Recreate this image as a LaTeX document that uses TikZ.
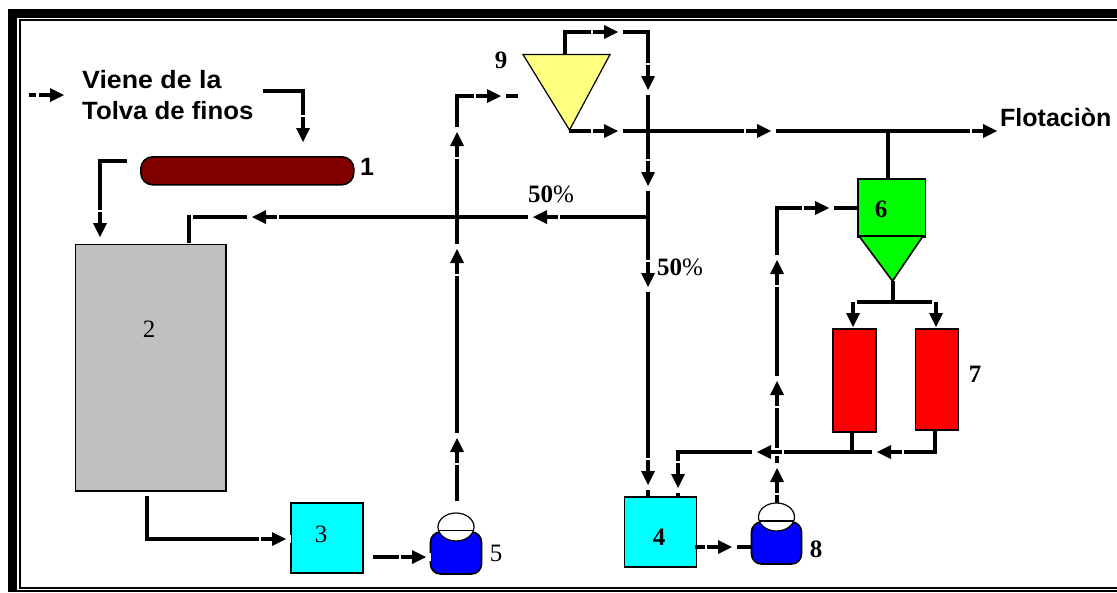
\documentclass[tikz,border=0pt]{standalone}
\usepackage{fontspec}
\setmainfont{Liberation Sans}
\newfontfamily\numfont{Liberation Serif}
\newcommand{\flowarrow}[3]{%
  \begin{scope}[shift={(#1,#2)},rotate=-#3]
    \fill[white] (-27,-4) rectangle (5,4);
    \fill[black] (-25,-1.6) rectangle (-12,1.6);
    \fill[black] (-14,-7) -- (0,0) -- (-14,7) -- cycle;
  \end{scope}}
\tikzset{
  x=1pt,y=-1pt,
  flow/.style={line width=3.2pt,draw=black,line join=miter},
  equip/.style={draw=black,line width=1.6pt},
  numlabel/.style={font=\numfont\bfseries\fontsize{25}{25}\selectfont,inner sep=0pt,text=black},
  numlight/.style={font=\numfont\fontsize{25}{25}\selectfont,inner sep=0pt,text=black},
  sanslabel/.style={font=\bfseries\fontsize{25}{29}\selectfont,inner sep=0pt,text=black,anchor=base west},
  pctlabel/.style={font=\numfont\fontsize{25}{25}\selectfont,inner sep=0pt,text=black,anchor=base west},
  pumpbody/.style={equip,fill={rgb,255:red,0;green,0;blue,255},rounded corners=10pt},
  pumpdome/.style={draw=black,line width=1.2pt,fill=white},
  boxnode/.style={equip,inner sep=0pt,anchor=north west}
}
\begin{document}
\begin{tikzpicture}
\useasboundingbox (0,0) rectangle (1117,592);
\fill[white] (0,0) rectangle (1117,592);
% frame
\fill[black] (8,9) rectangle (1117,17.8);
\fill[black] (8,9) rectangle (17,592);
\fill[black] (19,19) rectangle (1117,21);
\fill[black] (18.7,19) rectangle (21,589);
\fill[black] (19,586.8) rectangle (1117,588.6);
\fill[black] (8,590) rectangle (1117,592);
% equipment
\node[equip,fill={rgb,255:red,128;green,0;blue,0},minimum width=213pt,minimum height=28pt,rounded corners=12pt,inner sep=0pt,anchor=north west] (u1) at (140,156) {};
\node[boxnode,fill={rgb,255:red,192;green,192;blue,192},minimum width=150.5pt,minimum height=246.5pt] (u2) at (74.5,243.5) {};
\node[boxnode,fill={rgb,255:red,0;green,255;blue,255},minimum width=72pt,minimum height=70pt] (u3) at (290,502) {};
\node[boxnode,fill={rgb,255:red,0;green,255;blue,255},minimum width=72pt,minimum height=70pt] (u4) at (623.5,496) {};
\node[boxnode,fill={rgb,255:red,0;green,255;blue,0},minimum width=67.5pt,minimum height=58pt] (u6) at (857,178) {};
% cone of 6 and hydrocyclone 9
\draw[equip,fill={rgb,255:red,0;green,255;blue,0}] (859,236) -- (923,236) -- (892.5,281) -- cycle;
\draw[draw=black,line width=1.2pt,fill={rgb,255:red,255;green,255;blue,128}] (523,54.5) -- (610,54.5) -- (569.5,130) -- cycle;
% pumps
\draw[pumpbody] (751.5,522) -- (801.5,522) -- (801.5,564) -- (751.5,564) -- cycle;
\draw[pumpdome] (776.5,517) ellipse (18 and 14);
\draw[line width=1.2pt] (759,521) -- (794,521);
\draw[pumpbody] (430.5,532) -- (481.5,532) -- (481.5,574) -- (430.5,574) -- cycle;
\draw[pumpdome] (456,527) ellipse (18 and 14);
\draw[line width=1.2pt] (439,530.5) -- (473,530.5);
\coordinate (p8top) at (777,503);
\coordinate (p5top) at (457,501);
\coordinate (p5in) at (430,557);
\coordinate (p8in) at (751,547);
% connectors
\coordinate (hopperin) at (263,91);
\draw[flow] (hopperin) -- (303,91) -- (303,142);
\coordinate (u1out) at (127,161);
\draw[flow] (u1out) -- (100,161) -- (100,237);
\coordinate (retsplit) at (647,217);
\coordinate (u2top) at (189,243);
\draw[flow] (u2top) -- (189,215);
\draw[flow] (193,217) -- (retsplit);
\coordinate (u2bot) at (147,496);
\draw[flow] (u2bot) -- (147,539) -- (286,539);
\coordinate (u3out) at (373,557);
\draw[flow] (u3out) -- (p5in);
\coordinate (cycin) at (518,96);
\draw[flow] (p5top) -- (457,96) -- (cycin);
\coordinate (cyctop) at (565,54);
\coordinate (cycapex) at (569,131);
\draw[flow] (cyctop) -- (565,32) -- (648,32) -- (648,496);
\coordinate (flot) at (997,131);
\draw[flow] (cycapex) -- (flot);
\coordinate (t6) at (888,131);
\draw[flow] (t6) -- (888,178);
\draw[flow] (p8top) -- (777,208) -- (857,208);
\coordinate (conetip) at (893,281);
\coordinate (split7) at (893,302);
\draw[flow] (conetip) -- (split7);
\draw[flow] (852,302) -- (939,302);
\draw[flow] (853,306) -- (853,328);
\draw[flow] (936,306) -- (936,328);
\coordinate (m7) at (852,452);
\draw[flow] (852,431) -- (m7);
\draw[flow] (935,429) -- (935,452) -- (678,452) -- (678,496);
\draw[flow] (695,547) -- (p8in);
% arrowheads
\flowarrow{64}{95}{0}
\flowarrow{303}{142}{90}
\flowarrow{100}{237}{90}
\flowarrow{252}{217}{180}
\flowarrow{533}{217}{180}
\flowarrow{286}{539}{0}
\flowarrow{426}{557}{0}
\flowarrow{457}{438}{-90}
\flowarrow{457}{249}{-90}
\flowarrow{457}{132}{-90}
\flowarrow{501}{96}{0}
\flowarrow{618}{32}{0}
\flowarrow{648}{90}{90}
\flowarrow{618}{131}{0}
\flowarrow{771}{131}{0}
\flowarrow{997}{131}{0}
\flowarrow{648}{186}{90}
\flowarrow{648}{287}{90}
\flowarrow{648}{485}{90}
\flowarrow{678}{488}{90}
\flowarrow{829}{208}{0}
\flowarrow{777}{260}{-90}
\flowarrow{777}{381}{-90}
\flowarrow{777}{468}{-90}
\flowarrow{853}{327}{90}
\flowarrow{936}{327}{90}
\flowarrow{877}{452}{180}
\flowarrow{757}{452}{180}
\flowarrow{732}{547}{0}
% filter boxes, over the feet of their arrows
\node[boxnode,fill={rgb,255:red,255;green,0;blue,0},minimum width=43pt,minimum height=103pt] (u7a) at (832,328) {};
\node[boxnode,fill={rgb,255:red,255;green,0;blue,0},minimum width=43pt,minimum height=101pt] (u7b) at (914.5,328) {};
% dash of the free Viene arrow
\fill[black] (29,93.4) rectangle (36,96.6);
% labels
\node[sanslabel,align=left] (viene) at (82,88) {\scalebox{1.07}[1]{Viene de la}};
\node[sanslabel,align=left] (tolva) at (82,119) {\scalebox{1.03}[1]{Tolva de finos}};
\node[sanslabel] (flotlbl) at (1000,126) {Flotaciòn};
\node[sanslabel] (n1) at (360,175) {1};
\node[numlight] (n2) at (149,329) {2};
\node[numlight] (n3) at (321,534) {3};
\node[numlabel] (n4) at (659,537) {4};
\node[numlight] (n5) at (496,553) {5};
\node[numlabel] (n6) at (881,209) {6};
\node[numlabel] (n7) at (975,374) {7};
\node[numlabel] (n8) at (816,549) {8};
\node[numlabel] (n9) at (501,60) {9};
\node[pctlabel] (p1) at (528,202) {{\bfseries 50}\%};
\node[pctlabel] (p2) at (657,275) {{\bfseries 50}\%};
\end{tikzpicture}
\end{document}
